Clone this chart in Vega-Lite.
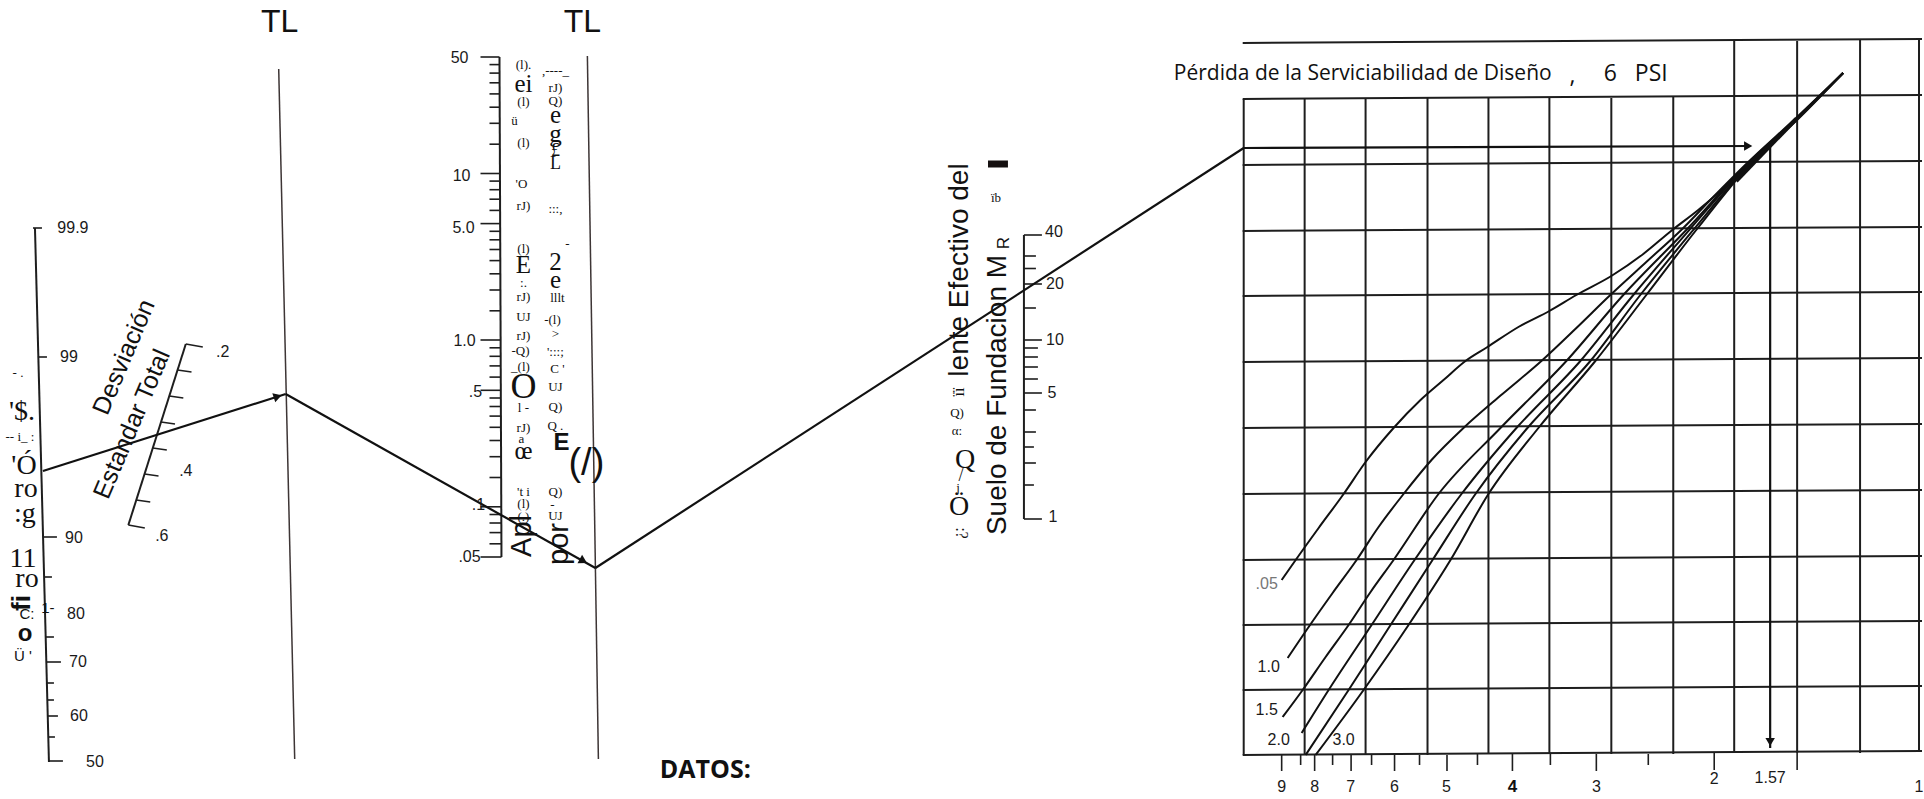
{
  "$schema": "https://vega.github.io/schema/vega-lite/v6.json",
  "width": 1924,
  "height": 799,
  "autosize": {"type": "fit", "contains": "padding"},
  "padding": 0,
  "background": "white",
  "config": {"view": {"stroke": null}},
  "datasets": {
    "segs": [
      {"k":"g","x":1245,"y":99,"x2":1245,"y2":755},
      {"k":"g","x":1306,"y":99,"x2":1306,"y2":755},
      {"k":"g","x":1367,"y":99,"x2":1367,"y2":755},
      {"k":"g","x":1429,"y":98,"x2":1429,"y2":755},
      {"k":"g","x":1490,"y":98,"x2":1490,"y2":754},
      {"k":"g","x":1551,"y":98,"x2":1551,"y2":754},
      {"k":"g","x":1613,"y":98,"x2":1613,"y2":754},
      {"k":"g","x":1675,"y":97,"x2":1675,"y2":754},
      {"k":"g","x":1736,"y":41,"x2":1736,"y2":753},
      {"k":"g","x":1799,"y":41,"x2":1799,"y2":753},
      {"k":"g","x":1862,"y":40,"x2":1862,"y2":753},
      {"k":"g","x":1921,"y":40,"x2":1921,"y2":752},
      {"k":"g","x":1244,"y":43,"x2":1924,"y2":39},
      {"k":"g","x":1244,"y":99,"x2":1924,"y2":95},
      {"k":"g","x":1244,"y":165,"x2":1924,"y2":161},
      {"k":"g","x":1244,"y":231,"x2":1924,"y2":227},
      {"k":"g","x":1244,"y":296,"x2":1924,"y2":292},
      {"k":"g","x":1244,"y":362,"x2":1924,"y2":358},
      {"k":"g","x":1244,"y":428,"x2":1924,"y2":424},
      {"k":"g","x":1244,"y":494,"x2":1924,"y2":490},
      {"k":"g","x":1244,"y":560,"x2":1924,"y2":556},
      {"k":"g","x":1244,"y":625,"x2":1924,"y2":621},
      {"k":"g","x":1244,"y":690,"x2":1924,"y2":686},
      {"k":"g","x":1244,"y":755,"x2":1924,"y2":751},
      {"k":"tl","x":279,"y":69,"x2":295,"y2":759},
      {"k":"tl","x":588,"y":56,"x2":599,"y2":759},
      {"k":"ax","x":35,"y":228,"x2":49,"y2":762},
      {"k":"ax","x":186,"y":344,"x2":128.5,"y2":525},
      {"k":"ax","x":500,"y":57,"x2":502,"y2":557},
      {"k":"ax","x":1025,"y":235,"x2":1025,"y2":519},
      {"k":"tk","x":33,"y":228,"x2":42,"y2":228},
      {"k":"tk","x":38,"y":357,"x2":47,"y2":357},
      {"k":"tk","x":43,"y":537,"x2":57,"y2":537},
      {"k":"tk","x":44,"y":577,"x2":52,"y2":577},
      {"k":"tk","x":46,"y":637,"x2":54,"y2":637},
      {"k":"tk","x":46,"y":662,"x2":61,"y2":662},
      {"k":"tk","x":47,"y":683,"x2":54,"y2":683},
      {"k":"tk","x":47,"y":700,"x2":54,"y2":700},
      {"k":"tk","x":48,"y":716,"x2":58,"y2":716},
      {"k":"tk","x":48,"y":737,"x2":55,"y2":737},
      {"k":"tk","x":49,"y":761,"x2":63,"y2":761},
      {"k":"tk","x":186,"y":344,"x2":203,"y2":347},
      {"k":"tk","x":177.7,"y":370,"x2":191.7,"y2":372},
      {"k":"tk","x":169.5,"y":396,"x2":183.5,"y2":398},
      {"k":"tk","x":161.2,"y":422,"x2":175.2,"y2":424},
      {"k":"tk","x":153,"y":448,"x2":167,"y2":450},
      {"k":"tk","x":144.7,"y":474,"x2":158.7,"y2":476},
      {"k":"tk","x":136.4,"y":500,"x2":150.4,"y2":502},
      {"k":"tk","x":128.5,"y":525,"x2":145,"y2":528},
      {"k":"tk","x":481,"y":57,"x2":500,"y2":57},
      {"k":"tk","x":490,"y":64.6,"x2":500,"y2":64.6},
      {"k":"tk","x":490,"y":73.1,"x2":500,"y2":73.1},
      {"k":"tk","x":490,"y":82.8,"x2":500,"y2":82.8},
      {"k":"tk","x":490,"y":93.9,"x2":500,"y2":93.9},
      {"k":"tk","x":490,"y":107.2,"x2":500,"y2":107.2},
      {"k":"tk","x":490,"y":123.3,"x2":500,"y2":123.3},
      {"k":"tk","x":490,"y":144.2,"x2":500,"y2":144.2},
      {"k":"tk","x":481,"y":173.5,"x2":500,"y2":173.5},
      {"k":"tk","x":490,"y":181.1,"x2":500,"y2":181.1},
      {"k":"tk","x":490,"y":189.7,"x2":500,"y2":189.7},
      {"k":"tk","x":490,"y":199.2,"x2":500,"y2":199.2},
      {"k":"tk","x":490,"y":210.4,"x2":500,"y2":210.4},
      {"k":"tk","x":481,"y":223.6,"x2":501,"y2":223.6},
      {"k":"tk","x":490,"y":231.3,"x2":501,"y2":231.3},
      {"k":"tk","x":490,"y":239.8,"x2":501,"y2":239.8},
      {"k":"tk","x":490,"y":249.5,"x2":501,"y2":249.5},
      {"k":"tk","x":490,"y":260.6,"x2":501,"y2":260.6},
      {"k":"tk","x":490,"y":273.8,"x2":501,"y2":273.8},
      {"k":"tk","x":490,"y":290,"x2":501,"y2":290},
      {"k":"tk","x":490,"y":310.8,"x2":501,"y2":310.8},
      {"k":"tk","x":481,"y":340,"x2":501,"y2":340},
      {"k":"tk","x":490,"y":347.8,"x2":501,"y2":347.8},
      {"k":"tk","x":490,"y":356.3,"x2":501,"y2":356.3},
      {"k":"tk","x":490,"y":365.9,"x2":501,"y2":365.9},
      {"k":"tk","x":490,"y":377.1,"x2":501,"y2":377.1},
      {"k":"tk","x":481,"y":390.3,"x2":501,"y2":390.3},
      {"k":"tk","x":490,"y":398,"x2":501,"y2":398},
      {"k":"tk","x":490,"y":406.5,"x2":501,"y2":406.5},
      {"k":"tk","x":490,"y":416.1,"x2":501,"y2":416.1},
      {"k":"tk","x":490,"y":427.3,"x2":501,"y2":427.3},
      {"k":"tk","x":490,"y":440.5,"x2":501,"y2":440.5},
      {"k":"tk","x":490,"y":456.7,"x2":502,"y2":456.7},
      {"k":"tk","x":490,"y":477.5,"x2":502,"y2":477.5},
      {"k":"tk","x":481,"y":506.8,"x2":502,"y2":506.8},
      {"k":"tk","x":490,"y":514.5,"x2":502,"y2":514.5},
      {"k":"tk","x":490,"y":523,"x2":502,"y2":523},
      {"k":"tk","x":490,"y":532.6,"x2":502,"y2":532.6},
      {"k":"tk","x":490,"y":543.8,"x2":502,"y2":543.8},
      {"k":"tk","x":481,"y":557,"x2":502,"y2":557},
      {"k":"tk","x":1025,"y":235,"x2":1043,"y2":235},
      {"k":"tk","x":1025,"y":256,"x2":1037,"y2":256},
      {"k":"tk","x":1025,"y":268.5,"x2":1037,"y2":268.5},
      {"k":"tk","x":1025,"y":284,"x2":1043,"y2":284},
      {"k":"tk","x":1025,"y":308,"x2":1037,"y2":308},
      {"k":"tk","x":1025,"y":340,"x2":1043,"y2":340},
      {"k":"tk","x":1025,"y":348,"x2":1039,"y2":348},
      {"k":"tk","x":1025,"y":357,"x2":1039,"y2":357},
      {"k":"tk","x":1025,"y":367,"x2":1039,"y2":367},
      {"k":"tk","x":1025,"y":379,"x2":1039,"y2":379},
      {"k":"tk","x":1025,"y":393,"x2":1043,"y2":393},
      {"k":"tk","x":1025,"y":410,"x2":1037,"y2":410},
      {"k":"tk","x":1025,"y":432,"x2":1037,"y2":432},
      {"k":"tk","x":1025,"y":447,"x2":1035,"y2":447},
      {"k":"tk","x":1025,"y":463,"x2":1037,"y2":463},
      {"k":"tk","x":1025,"y":485,"x2":1035,"y2":485},
      {"k":"tk","x":1025,"y":519,"x2":1043,"y2":519},
      {"k":"tk","x":1283,"y":755,"x2":1283,"y2":771},
      {"k":"tk","x":1302,"y":755,"x2":1302,"y2":765},
      {"k":"tk","x":1316,"y":755,"x2":1316,"y2":771},
      {"k":"tk","x":1334,"y":755,"x2":1334,"y2":765},
      {"k":"tk","x":1352.5,"y":755,"x2":1352.5,"y2":771},
      {"k":"tk","x":1373,"y":755,"x2":1373,"y2":765},
      {"k":"tk","x":1396,"y":755,"x2":1396,"y2":771},
      {"k":"tk","x":1421,"y":755,"x2":1421,"y2":765},
      {"k":"tk","x":1448.5,"y":755,"x2":1448.5,"y2":771},
      {"k":"tk","x":1479,"y":754,"x2":1479,"y2":765},
      {"k":"tk","x":1514,"y":754,"x2":1514,"y2":771},
      {"k":"tk","x":1552,"y":754,"x2":1552,"y2":765},
      {"k":"tk","x":1598,"y":754,"x2":1598,"y2":771},
      {"k":"tk","x":1650,"y":754,"x2":1650,"y2":765},
      {"k":"tk","x":1716,"y":753,"x2":1716,"y2":770},
      {"k":"tk","x":1799,"y":753,"x2":1799,"y2":770},
      {"k":"p","x":43,"y":471,"x2":286,"y2":394},
      {"k":"p","x":286,"y":394,"x2":596,"y2":568},
      {"k":"p","x":596,"y":568,"x2":1245,"y2":148},
      {"k":"p","x":1245,"y":148,"x2":1752,"y2":146},
      {"k":"p","x":1772,"y":146,"x2":1772,"y2":748},
      {"k":"w","x":1738,"y":181,"x2":1798,"y2":119},
      {"k":"bar","x":989,"y":164,"x2":1009,"y2":164}
    ],
    "curves": [
      {"c":".05","o":1,"x":1283,"y":580},{"c":".05","o":2,"x":1297,"y":560},{"c":".05","o":3,"x":1320,"y":528},{"c":".05","o":4,"x":1345,"y":494},{"c":".05","o":5,"x":1367,"y":462},{"c":".05","o":6,"x":1395,"y":428},{"c":".05","o":7,"x":1422,"y":400},{"c":".05","o":8,"x":1445,"y":380},{"c":".05","o":9,"x":1467,"y":361},{"c":".05","o":10,"x":1489,"y":347},{"c":".05","o":11,"x":1520,"y":327},{"c":".05","o":12,"x":1551,"y":311},{"c":".05","o":13,"x":1578,"y":295},{"c":".05","o":14,"x":1613,"y":276},{"c":".05","o":15,"x":1645,"y":254},{"c":".05","o":16,"x":1674,"y":230},{"c":".05","o":17,"x":1700,"y":210},{"c":".05","o":18,"x":1720,"y":193},{"c":".05","o":19,"x":1750,"y":164},{"c":".05","o":20,"x":1800,"y":117},{"c":".05","o":21,"x":1845,"y":73},
      {"c":"1.0","o":1,"x":1289,"y":658},{"c":"1.0","o":2,"x":1310,"y":627},{"c":"1.0","o":3,"x":1334,"y":593},{"c":"1.0","o":4,"x":1358,"y":560},{"c":"1.0","o":5,"x":1380,"y":527},{"c":"1.0","o":6,"x":1405,"y":494},{"c":"1.0","o":7,"x":1433,"y":460},{"c":"1.0","o":8,"x":1465,"y":428},{"c":"1.0","o":9,"x":1504,"y":394},{"c":"1.0","o":10,"x":1543,"y":361},{"c":"1.0","o":11,"x":1578,"y":328},{"c":"1.0","o":12,"x":1612,"y":295},{"c":"1.0","o":13,"x":1648,"y":262},{"c":"1.0","o":14,"x":1683,"y":230},{"c":"1.0","o":15,"x":1715,"y":197},{"c":"1.0","o":16,"x":1748,"y":164},{"c":"1.0","o":17,"x":1800,"y":116},{"c":"1.0","o":18,"x":1845,"y":73},
      {"c":"1.5","o":1,"x":1284,"y":717},{"c":"1.5","o":2,"x":1304,"y":690},{"c":"1.5","o":3,"x":1327,"y":657},{"c":"1.5","o":4,"x":1350,"y":625},{"c":"1.5","o":5,"x":1372,"y":592},{"c":"1.5","o":6,"x":1395,"y":560},{"c":"1.5","o":7,"x":1440,"y":494},{"c":"1.5","o":8,"x":1502,"y":428},{"c":"1.5","o":9,"x":1568,"y":361},{"c":"1.5","o":10,"x":1625,"y":295},{"c":"1.5","o":11,"x":1688,"y":230},{"c":"1.5","o":12,"x":1749,"y":164},{"c":"1.5","o":13,"x":1800,"y":117},{"c":"1.5","o":14,"x":1845,"y":73},
      {"c":"2.0","o":1,"x":1303,"y":733},{"c":"2.0","o":2,"x":1330,"y":690},{"c":"2.0","o":3,"x":1373,"y":625},{"c":"2.0","o":4,"x":1416,"y":560},{"c":"2.0","o":5,"x":1463,"y":494},{"c":"2.0","o":6,"x":1518,"y":428},{"c":"2.0","o":7,"x":1582,"y":361},{"c":"2.0","o":8,"x":1635,"y":295},{"c":"2.0","o":9,"x":1691,"y":230},{"c":"2.0","o":10,"x":1750,"y":164},{"c":"2.0","o":11,"x":1801,"y":117},{"c":"2.0","o":12,"x":1845,"y":73},
      {"c":"2.5","o":1,"x":1307,"y":755},{"c":"2.5","o":2,"x":1350,"y":690},{"c":"2.5","o":3,"x":1392,"y":625},{"c":"2.5","o":4,"x":1434,"y":560},{"c":"2.5","o":5,"x":1477,"y":494},{"c":"2.5","o":6,"x":1529,"y":428},{"c":"2.5","o":7,"x":1592,"y":361},{"c":"2.5","o":8,"x":1642,"y":295},{"c":"2.5","o":9,"x":1695,"y":230},{"c":"2.5","o":10,"x":1751,"y":164},{"c":"2.5","o":11,"x":1801,"y":117},{"c":"2.5","o":12,"x":1845,"y":73},
      {"c":"3.0","o":1,"x":1317,"y":755},{"c":"3.0","o":2,"x":1365,"y":690},{"c":"3.0","o":3,"x":1410,"y":625},{"c":"3.0","o":4,"x":1452,"y":560},{"c":"3.0","o":5,"x":1490,"y":494},{"c":"3.0","o":6,"x":1540,"y":428},{"c":"3.0","o":7,"x":1597,"y":361},{"c":"3.0","o":8,"x":1648,"y":295},{"c":"3.0","o":9,"x":1698,"y":230},{"c":"3.0","o":10,"x":1752,"y":164},{"c":"3.0","o":11,"x":1802,"y":117},{"c":"3.0","o":12,"x":1845,"y":73}
    ],
    "arrows": [
      {"k":"a1","x":278,"y":396.5},
      {"k":"a2","x":584,"y":561},
      {"k":"a3","x":1750,"y":146},
      {"k":"a4","x":1772,"y":742}
    ],
    "texts": [
      {"k":"lab","t":"99.9","x":73,"y":228},
      {"k":"lab","t":"99","x":69,"y":357},
      {"k":"lab","t":"90","x":74,"y":538},
      {"k":"lab","t":"80","x":76,"y":614},
      {"k":"lab","t":"70","x":78,"y":662},
      {"k":"lab","t":"60","x":79,"y":716},
      {"k":"lab","t":"50","x":95,"y":762},
      {"k":"lab","t":".2","x":223,"y":352},
      {"k":"lab","t":".4","x":186,"y":471},
      {"k":"lab","t":".6","x":162,"y":536},
      {"k":"lab","t":"50","x":460,"y":58},
      {"k":"lab","t":"10","x":462,"y":176},
      {"k":"lab","t":"5.0","x":464,"y":228},
      {"k":"lab","t":"1.0","x":465,"y":341},
      {"k":"lab","t":".5","x":476,"y":392},
      {"k":"lab","t":".1","x":479,"y":505},
      {"k":"lab","t":".05","x":470,"y":557},
      {"k":"lab","t":"40","x":1055,"y":232},
      {"k":"lab","t":"20","x":1056,"y":284},
      {"k":"lab","t":"10","x":1056,"y":340},
      {"k":"lab","t":"5","x":1053,"y":393},
      {"k":"lab","t":"1","x":1054,"y":517},
      {"k":"lab","t":"9","x":1283,"y":787},
      {"k":"lab","t":"8","x":1316,"y":787},
      {"k":"lab","t":"7","x":1352,"y":787},
      {"k":"lab","t":"6","x":1396,"y":787},
      {"k":"lab","t":"5","x":1448,"y":787},
      {"k":"lab","t":"3","x":1598,"y":787},
      {"k":"lab","t":"2","x":1716,"y":779},
      {"k":"lab","t":"1.57","x":1772,"y":778},
      {"k":"lab","t":"1","x":1921,"y":787},
      {"k":"lab","t":"1.0","x":1270,"y":667},
      {"k":"lab","t":"1.5","x":1268,"y":710},
      {"k":"lab","t":"2.0","x":1280,"y":740},
      {"k":"lab","t":"3.0","x":1345,"y":740},
      {"k":"labG","t":".05","x":1268,"y":584},
      {"k":"labB","t":"4","x":1514,"y":787},
      {"k":"tl","t":"TL","x":280,"y":22},
      {"k":"tl","t":"TL","x":583,"y":22},
      {"k":"datos","t":"DATOS:","x":706,"y":770},
      {"k":"title","t":"Pérdida de la Serviciabilidad de Diseño","x":1175,"y":74},
      {"k":"titlec","t":",","x":1574,"y":76},
      {"k":"titlec","t":"6","x":1612,"y":74},
      {"k":"titlec","t":"PSI","x":1653,"y":74},
      {"k":"rot","t":"lente Efectivo del","x":961,"y":270},
      {"k":"rot","t":"Suelo de Fundacion M","x":999,"y":395},
      {"k":"sub","t":"R","x":1005,"y":243},
      {"k":"rotS","t":"Apl","x":523,"y":536},
      {"k":"rotS","t":"por","x":560,"y":544},
      {"k":"sd","t":"Desviación","x":124,"y":357},
      {"k":"sd","t":"Estandar Total","x":132,"y":424},
      {"k":"gs","t":"(l).","x":524,"y":65},
      {"k":"gs","t":"(l)","x":524,"y":102},
      {"k":"gs","t":"ü","x":515,"y":121},
      {"k":"gs","t":"(l)","x":524,"y":143},
      {"k":"gs","t":"'O","x":522,"y":184},
      {"k":"gs","t":"rJ)","x":524,"y":206},
      {"k":"gs","t":"(l)","x":524,"y":249},
      {"k":"gs","t":":.","x":524,"y":283},
      {"k":"gs","t":"rJ)","x":524,"y":297},
      {"k":"gs","t":"UJ","x":524,"y":317},
      {"k":"gs","t":"rJ)","x":524,"y":336},
      {"k":"gs","t":"-Q)","x":521,"y":351},
      {"k":"gs","t":"_(l)","x":521,"y":367},
      {"k":"gs","t":"l -","x":524,"y":408},
      {"k":"gs","t":"rJ)","x":524,"y":428},
      {"k":"gs","t":"a","x":522,"y":439},
      {"k":"gs","t":"'t i","x":524,"y":492},
      {"k":"gs","t":"(l)","x":524,"y":504},
      {"k":"gs","t":"(.)","x":524,"y":517},
      {"k":"gs","t":",----_","x":556,"y":71},
      {"k":"gs","t":"rJ)","x":556,"y":88},
      {"k":"gs","t":"Q)","x":556,"y":101},
      {"k":"gs","t":":::,","x":556,"y":209},
      {"k":"gs","t":"-","x":568,"y":244},
      {"k":"gs","t":"lllt","x":558,"y":298},
      {"k":"gs","t":"-(l)","x":553,"y":320},
      {"k":"gs","t":">","x":556,"y":334},
      {"k":"gs","t":"':::;","x":556,"y":352},
      {"k":"gs","t":"C '","x":558,"y":369},
      {"k":"gs","t":"UJ","x":556,"y":387},
      {"k":"gs","t":"Q)","x":556,"y":407},
      {"k":"gs","t":"Q .","x":556,"y":426},
      {"k":"gs","t":"Q)","x":556,"y":492},
      {"k":"gs","t":"-","x":553,"y":505},
      {"k":"gs","t":"UJ","x":556,"y":516},
      {"k":"gs","t":"- .","x":18,"y":373},
      {"k":"gs","t":"-- i_ :","x":20,"y":437},
      {"k":"gs","t":"Q)","x":958,"y":413},
      {"k":"gs","t":"α:","x":958,"y":431},
      {"k":"gs","t":"j","x":959,"y":488},
      {"k":"gs","t":"ïb","x":997,"y":198},
      {"k":"gl","t":"ei","x":524,"y":84},
      {"k":"gl","t":"E","x":524,"y":265},
      {"k":"gl","t":"œ","x":524,"y":451},
      {"k":"gl","t":"e","x":556,"y":115},
      {"k":"gl","t":"g","x":556,"y":134},
      {"k":"gl","t":"2","x":556,"y":262},
      {"k":"gl","t":"e","x":556,"y":280},
      {"k":"glL","t":"'$.","x":22,"y":412},
      {"k":"glL","t":"'Ó","x":24,"y":466},
      {"k":"glL","t":"ro","x":26,"y":489},
      {"k":"glL","t":":g","x":25,"y":514},
      {"k":"glL","t":"11","x":23,"y":559},
      {"k":"glL","t":"ro","x":27,"y":579},
      {"k":"glL","t":"Q","x":966,"y":460},
      {"k":"glL","t":"Ö","x":960,"y":507},
      {"k":"gxl","t":"O","x":524,"y":387},
      {"k":"gm","t":"£","x":556,"y":151},
      {"k":"gm","t":"L","x":556,"y":164},
      {"k":"gm","t":"/","x":962,"y":476},
      {"k":"grot","t":"ïï","x":960,"y":392},
      {"k":"grot","t":"¿:","x":960,"y":533},
      {"k":"ssm","t":"C:","x":27,"y":614},
      {"k":"ssm","t":"Ü '","x":23,"y":656},
      {"k":"ssm","t":"1-","x":48,"y":608},
      {"k":"sbig","t":"(/)","x":587,"y":464},
      {"k":"sbold","t":"E","x":562,"y":443},
      {"k":"sbold","t":"o","x":25,"y":634},
      {"k":"rotB","t":"fi","x":22,"y":603}
    ]
  },
  "encoding": {
    "x": {"field": "x", "type": "quantitative", "scale": {"domain": [0, 1924], "nice": false, "zero": false}, "axis": null},
    "y": {"field": "y", "type": "quantitative", "scale": {"domain": [0, 799], "nice": false, "zero": false, "reverse": true}, "axis": null}
  },
  "layer": [
    {"data": {"name": "segs"}, "transform": [{"filter": "datum.k === 'g'"}], "mark": {"type": "rule", "strokeWidth": 2, "color": "#1e1e1e"}, "encoding": {"x2": {"field": "x2"}, "y2": {"field": "y2"}}},
    {"data": {"name": "segs"}, "transform": [{"filter": "datum.k === 'tl'"}], "mark": {"type": "rule", "strokeWidth": 1.5, "color": "#3d3535"}, "encoding": {"x2": {"field": "x2"}, "y2": {"field": "y2"}}},
    {"data": {"name": "segs"}, "transform": [{"filter": "datum.k === 'ax'"}], "mark": {"type": "rule", "strokeWidth": 2, "color": "#1e1e1e"}, "encoding": {"x2": {"field": "x2"}, "y2": {"field": "y2"}}},
    {"data": {"name": "segs"}, "transform": [{"filter": "datum.k === 'tk'"}], "mark": {"type": "rule", "strokeWidth": 1.6, "color": "#1e1e1e"}, "encoding": {"x2": {"field": "x2"}, "y2": {"field": "y2"}}},
    {"data": {"name": "segs"}, "transform": [{"filter": "datum.k === 'p'"}], "mark": {"type": "rule", "strokeWidth": 2.2, "color": "#111111"}, "encoding": {"x2": {"field": "x2"}, "y2": {"field": "y2"}}},
    {"data": {"name": "segs"}, "transform": [{"filter": "datum.k === 'w'"}], "mark": {"type": "rule", "strokeWidth": 4, "color": "#111111"}, "encoding": {"x2": {"field": "x2"}, "y2": {"field": "y2"}}},
    {"data": {"name": "segs"}, "transform": [{"filter": "datum.k === 'bar'"}], "mark": {"type": "rule", "strokeWidth": 7, "color": "#151010"}, "encoding": {"x2": {"field": "x2"}, "y2": {"field": "y2"}}},
    {"data": {"name": "curves"}, "mark": {"type": "line", "strokeWidth": 2, "color": "#111111", "interpolate": "monotone"}, "encoding": {"detail": {"field": "c"}, "order": {"field": "o", "type": "quantitative"}}},
    {"data": {"name": "arrows"}, "transform": [{"filter": "datum.k === 'a1'"}], "mark": {"type": "point", "shape": "triangle-right", "filled": true, "size": 90, "angle": 342, "color": "#111111", "opacity": 1}},
    {"data": {"name": "arrows"}, "transform": [{"filter": "datum.k === 'a2'"}], "mark": {"type": "point", "shape": "triangle-right", "filled": true, "size": 90, "angle": 29, "color": "#111111", "opacity": 1}},
    {"data": {"name": "arrows"}, "transform": [{"filter": "datum.k === 'a3'"}], "mark": {"type": "point", "shape": "triangle-right", "filled": true, "size": 90, "angle": 0, "color": "#111111", "opacity": 1}},
    {"data": {"name": "arrows"}, "transform": [{"filter": "datum.k === 'a4'"}], "mark": {"type": "point", "shape": "triangle-right", "filled": true, "size": 90, "angle": 90, "color": "#111111", "opacity": 1}},
    {"data": {"name": "texts"}, "transform": [{"filter": "datum.k === 'lab'"}], "mark": {"type": "text", "font": "Liberation Sans", "fontSize": 16, "color": "#1a1a1a"}, "encoding": {"text": {"field": "t"}}},
    {"data": {"name": "texts"}, "transform": [{"filter": "datum.k === 'labG'"}], "mark": {"type": "text", "font": "Liberation Sans", "fontSize": 16, "color": "#777777"}, "encoding": {"text": {"field": "t"}}},
    {"data": {"name": "texts"}, "transform": [{"filter": "datum.k === 'labB'"}], "mark": {"type": "text", "font": "Liberation Sans", "fontSize": 17, "fontWeight": "bold", "color": "#111111"}, "encoding": {"text": {"field": "t"}}},
    {"data": {"name": "texts"}, "transform": [{"filter": "datum.k === 'tl'"}], "mark": {"type": "text", "font": "Liberation Sans", "fontSize": 32, "color": "#111111"}, "encoding": {"text": {"field": "t"}}},
    {"data": {"name": "texts"}, "transform": [{"filter": "datum.k === 'datos'"}], "mark": {"type": "text", "font": "Open Sans", "fontSize": 25, "fontWeight": "bold", "color": "#111111"}, "encoding": {"text": {"field": "t"}}},
    {"data": {"name": "texts"}, "transform": [{"filter": "datum.k === 'title'"}], "mark": {"type": "text", "font": "Open Sans", "fontSize": 21, "align": "left", "color": "#111111"}, "encoding": {"text": {"field": "t"}}},
    {"data": {"name": "texts"}, "transform": [{"filter": "datum.k === 'titlec'"}], "mark": {"type": "text", "font": "Open Sans", "fontSize": 23, "color": "#111111"}, "encoding": {"text": {"field": "t"}}},
    {"data": {"name": "texts"}, "transform": [{"filter": "datum.k === 'rot'"}], "mark": {"type": "text", "font": "Liberation Sans", "fontSize": 28, "angle": 270, "color": "#111111"}, "encoding": {"text": {"field": "t"}}},
    {"data": {"name": "texts"}, "transform": [{"filter": "datum.k === 'sub'"}], "mark": {"type": "text", "font": "Liberation Sans", "fontSize": 17, "angle": 270, "color": "#111111"}, "encoding": {"text": {"field": "t"}}},
    {"data": {"name": "texts"}, "transform": [{"filter": "datum.k === 'rotS'"}], "mark": {"type": "text", "font": "Liberation Sans", "fontSize": 29, "angle": 270, "color": "#111111"}, "encoding": {"text": {"field": "t"}}},
    {"data": {"name": "texts"}, "transform": [{"filter": "datum.k === 'sd'"}], "mark": {"type": "text", "font": "Liberation Sans", "fontSize": 25, "angle": 293, "color": "#111111"}, "encoding": {"text": {"field": "t"}}},
    {"data": {"name": "texts"}, "transform": [{"filter": "datum.k === 'gs'"}], "mark": {"type": "text", "font": "Liberation Serif", "fontSize": 13, "color": "#111111"}, "encoding": {"text": {"field": "t"}}},
    {"data": {"name": "texts"}, "transform": [{"filter": "datum.k === 'gl'"}], "mark": {"type": "text", "font": "Liberation Serif", "fontSize": 25, "color": "#111111"}, "encoding": {"text": {"field": "t"}}},
    {"data": {"name": "texts"}, "transform": [{"filter": "datum.k === 'glL'"}], "mark": {"type": "text", "font": "Liberation Serif", "fontSize": 28, "color": "#111111"}, "encoding": {"text": {"field": "t"}}},
    {"data": {"name": "texts"}, "transform": [{"filter": "datum.k === 'gxl'"}], "mark": {"type": "text", "font": "Liberation Serif", "fontSize": 36, "color": "#111111"}, "encoding": {"text": {"field": "t"}}},
    {"data": {"name": "texts"}, "transform": [{"filter": "datum.k === 'gm'"}], "mark": {"type": "text", "font": "Liberation Serif", "fontSize": 18, "color": "#111111"}, "encoding": {"text": {"field": "t"}}},
    {"data": {"name": "texts"}, "transform": [{"filter": "datum.k === 'grot'"}], "mark": {"type": "text", "font": "Liberation Serif", "fontSize": 16, "angle": 270, "color": "#111111"}, "encoding": {"text": {"field": "t"}}},
    {"data": {"name": "texts"}, "transform": [{"filter": "datum.k === 'ssm'"}], "mark": {"type": "text", "font": "Liberation Sans", "fontSize": 15, "color": "#111111"}, "encoding": {"text": {"field": "t"}}},
    {"data": {"name": "texts"}, "transform": [{"filter": "datum.k === 'sbig'"}], "mark": {"type": "text", "font": "Liberation Sans", "fontSize": 38, "color": "#111111"}, "encoding": {"text": {"field": "t"}}},
    {"data": {"name": "texts"}, "transform": [{"filter": "datum.k === 'sbold'"}], "mark": {"type": "text", "font": "Liberation Sans", "fontSize": 24, "fontWeight": "bold", "color": "#111111"}, "encoding": {"text": {"field": "t"}}},
    {"data": {"name": "texts"}, "transform": [{"filter": "datum.k === 'rotB'"}], "mark": {"type": "text", "font": "Liberation Sans", "fontSize": 26, "fontWeight": "bold", "angle": 270, "color": "#111111"}, "encoding": {"text": {"field": "t"}}}
  ]
}
